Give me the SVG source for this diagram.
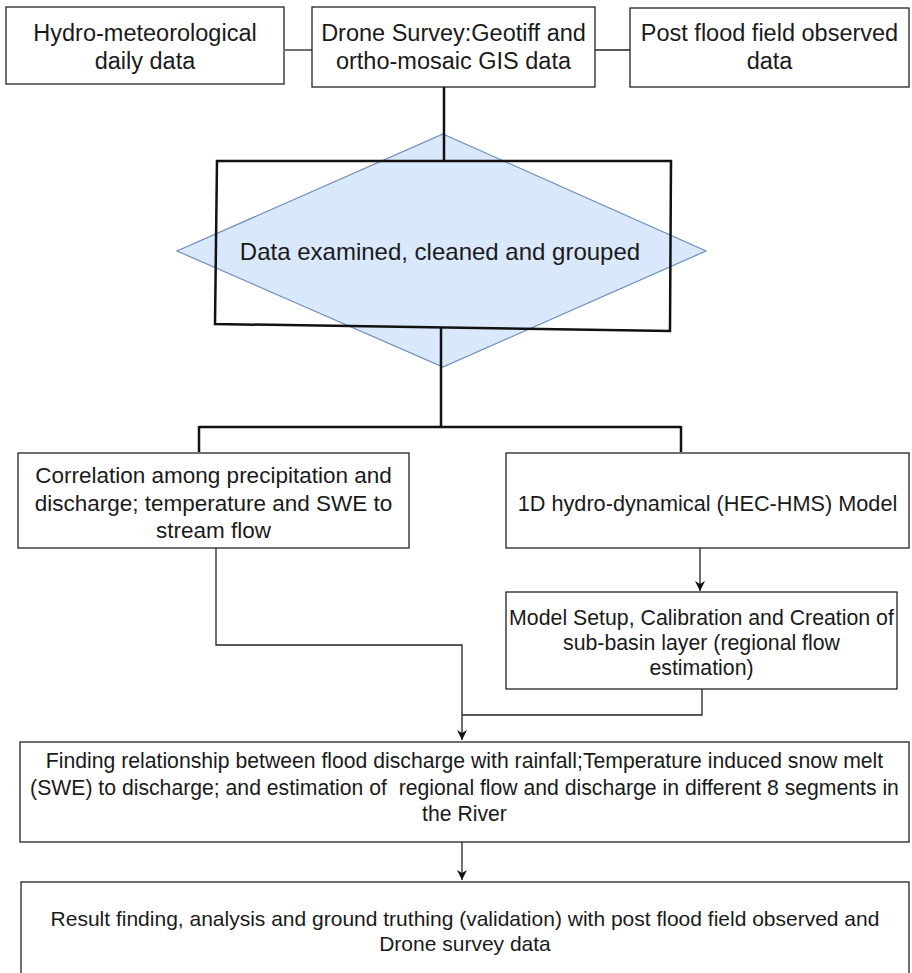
<svg xmlns="http://www.w3.org/2000/svg" width="912" height="973" viewBox="0 0 912 973">
<style>
.box{fill:#fff;stroke:#222;stroke-width:1.3}
.t{font-family:"Liberation Sans",Arial,sans-serif;fill:#1a1a1a;text-anchor:middle}
.c{fill:none;stroke:#222;stroke-width:1.3}
.thick{fill:none;stroke:#111;stroke-width:2.5}
</style>
<defs>
<marker id="arr" markerUnits="userSpaceOnUse" markerWidth="10" markerHeight="10" refX="10" refY="5" orient="auto">
<path d="M0,0 L10,5 L0,10 L3,5 z" fill="#111"/>
</marker>
</defs>
<rect width="912" height="973" fill="#fff"/>

<g id="connectors">
<line class="c" x1="285" y1="50" x2="312" y2="50"/>
<line class="c" x1="595" y1="50" x2="630" y2="50"/>
<path class="c" d="M216,548 V645 H462 V740" marker-end="url(#arr)"/>
<path class="c" d="M702,689 V715 H462"/>
<path class="c" d="M700,548 V591" stroke="#555" marker-end="url(#arr)"/>
<path class="c" d="M462,842 V880" marker-end="url(#arr)"/>
</g>

<g id="hydro">
<rect class="box" x="6" y="7" width="278" height="77"/>
<text class="t" font-size="23.5" x="145" y="40.5">Hydro-meteorological</text>
<text class="t" font-size="23.5" x="145" y="68.5">daily data</text>
</g>
<g id="drone">
<rect class="box" x="312" y="7" width="283" height="80"/>
<text class="t" font-size="23.5" x="453.5" y="40.5">Drone Survey:Geotiff and</text>
<text class="t" font-size="23.5" x="453.5" y="68.5">ortho-mosaic GIS data</text>
</g>
<g id="postflood">
<rect class="box" x="630" y="8" width="279" height="79"/>
<text class="t" font-size="23.5" x="769.5" y="40.5">Post flood field observed</text>
<text class="t" font-size="23.5" x="769.5" y="68.5">data</text>
</g>

<g id="examine">
<polygon points="443,134 706,251 443,367 177,251" fill="#dae8fc" stroke="#6c8ebf" stroke-width="1.2"/>
<polygon class="thick" points="217,161 671,161 670,331 215,324"/>
<text class="t" font-size="24" x="440" y="259.6">Data examined, cleaned and grouped</text>
</g>

<g id="trunk">
<line class="thick" x1="444" y1="87" x2="444" y2="161" stroke-width="2"/>
<path class="thick" d="M441,328 V427 M199,427 H681 M199,426 V452 M681,426 V452"/>
</g>

<g id="correlation">
<rect class="box" x="18" y="453" width="391" height="95"/>
<text class="t" font-size="22.5" x="213.5" y="483">Correlation among precipitation and</text>
<text class="t" font-size="22.5" x="213.5" y="511">discharge; temperature and SWE to</text>
<text class="t" font-size="22.5" x="213.5" y="538">stream flow</text>
</g>
<g id="hecmodel">
<rect class="box" x="506" y="453" width="403" height="95"/>
<text class="t" font-size="21.7" x="707.5" y="511">1D hydro-dynamical (HEC-HMS) Model</text>
</g>
<g id="setup">
<rect class="box" x="506" y="592" width="391" height="97"/>
<text class="t" font-size="21.3" x="701.5" y="625">Model Setup, Calibration and Creation of</text>
<text class="t" font-size="21.3" x="701.5" y="650">sub-basin layer (regional flow</text>
<text class="t" font-size="21.3" x="701.5" y="675">estimation)</text>
</g>
<g id="finding">
<rect class="box" x="20" y="742" width="889" height="100"/>
<text class="t" font-size="21.2" x="464.5" y="768">Finding relationship between flood discharge with rainfall;Temperature induced snow melt</text>
<text class="t" font-size="21.2" x="464.5" y="795" xml:space="preserve">(SWE) to discharge; and estimation of  regional flow and discharge in different 8 segments in</text>
<text class="t" font-size="21.2" x="464.5" y="821">the River</text>
</g>
<g id="result">
<rect class="box" x="21" y="882" width="888" height="95"/>
<text class="t" font-size="21" x="465" y="926">Result finding, analysis and ground truthing (validation) with post flood field observed and</text>
<text class="t" font-size="21" x="465" y="951">Drone survey data</text>
</g>
</svg>
